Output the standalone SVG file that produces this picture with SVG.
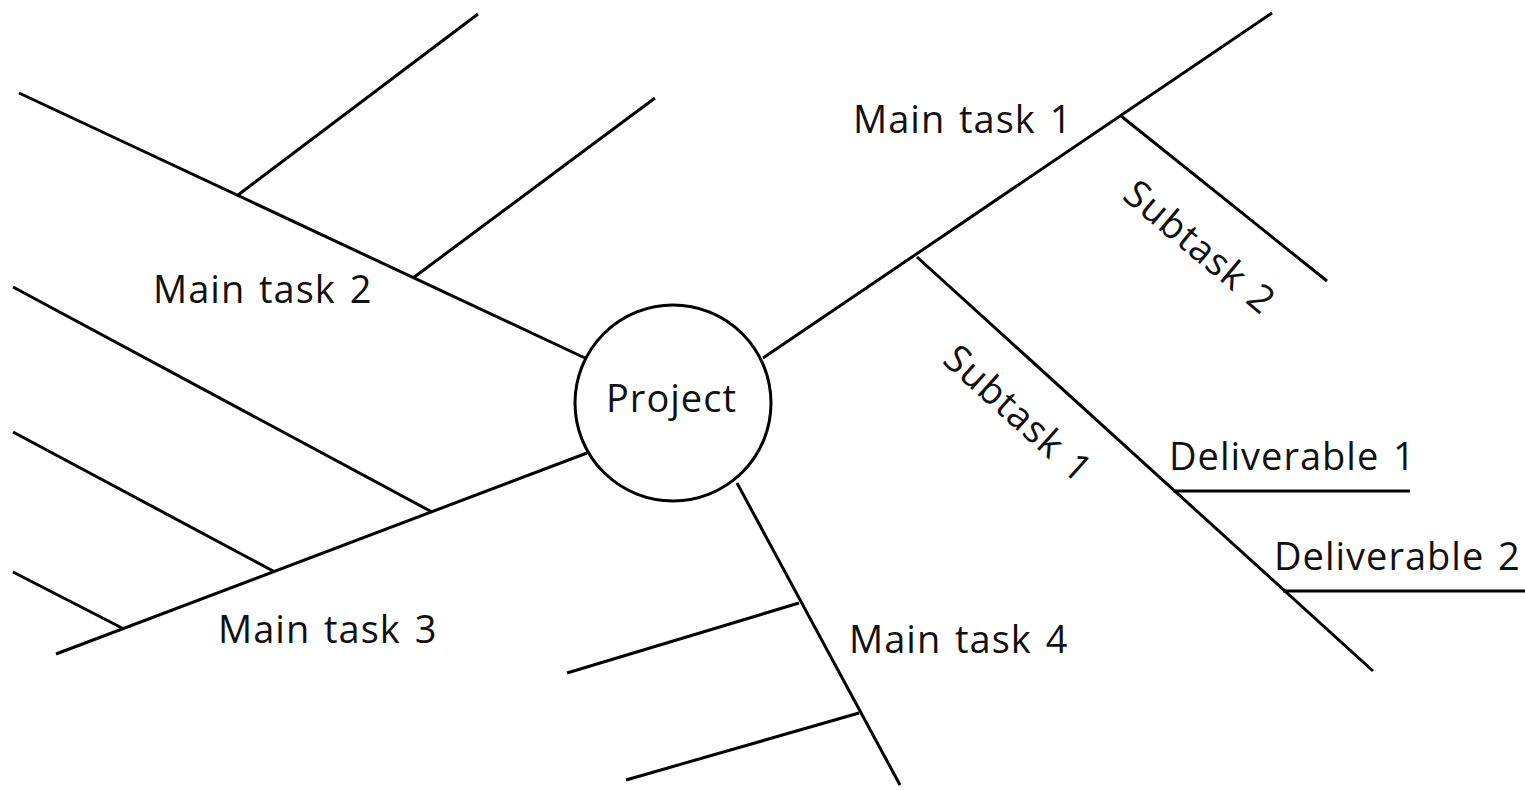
<svg xmlns="http://www.w3.org/2000/svg" width="1525" height="790" viewBox="0 0 1525 790">
  <style>
    .ln { stroke: #000; stroke-width: 3; fill: none; stroke-linecap: butt; }
    .lbl { font-family: "Open Sans", "Noto Sans", sans-serif; font-size: 38px; fill: #111; letter-spacing: 1px; word-spacing: 3px; }
  </style>
  <rect width="1525" height="790" fill="#fff"/>

  <!-- connectors: main task branches and their sub-branches -->
  <g id="connectors" class="ln">
    <!-- main task 1 -->
    <line x1="763" y1="358" x2="1272" y2="13"/>
    <line x1="1121" y1="116" x2="1327" y2="281"/>
    <line x1="917" y1="257" x2="1373" y2="671"/>
    <line x1="1173" y1="491" x2="1410" y2="491"/>
    <line x1="1283" y1="591" x2="1525" y2="591"/>
    <!-- main task 2 -->
    <line x1="585" y1="358" x2="19" y2="93"/>
    <line x1="238" y1="195" x2="478" y2="14"/>
    <line x1="413" y1="278" x2="655" y2="98"/>
    <!-- main task 3 -->
    <line x1="587" y1="453" x2="56" y2="654"/>
    <line x1="432" y1="512" x2="13" y2="287"/>
    <line x1="275" y1="572" x2="13" y2="432"/>
    <line x1="124" y1="629" x2="13" y2="572"/>
    <!-- main task 4 -->
    <line x1="737" y1="483" x2="900" y2="785"/>
    <line x1="799" y1="603" x2="567" y2="673"/>
    <line x1="859" y1="713" x2="626" y2="780"/>
  </g>

  <g id="project">
    <circle cx="673" cy="403" r="98" fill="#fff" stroke="#000" stroke-width="3"/>
    <text class="lbl" x="606" y="412">Project</text>
  </g>

  <g id="main-task-1"><text class="lbl" x="853" y="133">Main task 1</text></g>
  <g id="main-task-2"><text class="lbl" x="153" y="303">Main task 2</text></g>
  <g id="main-task-3"><text class="lbl" x="218" y="643">Main task 3</text></g>
  <g id="main-task-4"><text class="lbl" x="849" y="653">Main task 4</text></g>

  <g id="subtask-1"><text class="lbl" transform="translate(941,362) rotate(42)">Subtask 1</text></g>
  <g id="subtask-2"><text class="lbl" transform="translate(1121,198) rotate(40)">Subtask 2</text></g>

  <g id="deliverable-1"><text class="lbl" x="1169" y="470">Deliverable 1</text></g>
  <g id="deliverable-2"><text class="lbl" x="1274" y="570">Deliverable 2</text></g>
</svg>
